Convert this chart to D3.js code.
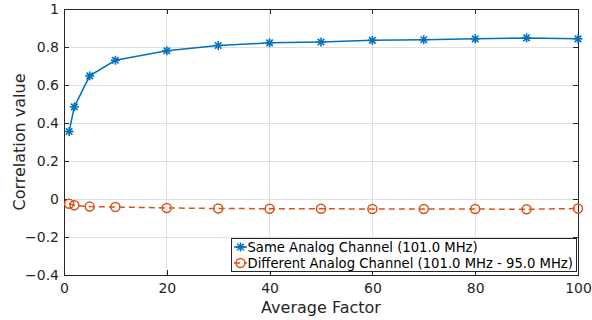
<!DOCTYPE html>
<html><head><meta charset="utf-8">
<script src="https://cdn.jsdelivr.net/npm/d3@7"></script>
<style>body{margin:0;background:#fff;} svg{display:block;}</style>
</head><body>
<svg id="c" width="592" height="320"></svg>
<script>
const xs = [1, 2, 5, 10, 20, 30, 40, 50, 60, 70, 80, 90, 100];
const sameVals = [0.355, 0.485, 0.648, 0.730, 0.780, 0.808, 0.822, 0.826, 0.835, 0.838, 0.843, 0.848, 0.843];
const diffVals = [-0.025, -0.033, -0.040, -0.042, -0.047, -0.050, -0.051, -0.051, -0.053, -0.053, -0.053, -0.054, -0.050];
const xTicks = [0, 20, 40, 60, 80, 100];
const yTicks = [-0.4, -0.2, 0, 0.2, 0.4, 0.6, 0.8, 1];
const seriesNames = ["Same Analog Channel (101.0 MHz)", "Different Analog Channel (101.0 MHz - 95.0 MHz)"];
const colors = ["#0072BD", "#D95319"];

const svg = d3.select("#c");
const L = 64, R = 578, T = 9, B = 275;
const x = d3.scaleLinear().domain([0, 100]).range([L, R]);
const y = d3.scaleLinear().domain([-0.4, 1]).range([B, T]);
const font = "'DejaVu Sans', sans-serif";
const axCol = "#262626";

// grid
svg.append("g").selectAll("line").data(xTicks).join("line")
  .attr("x1", d => x(d)).attr("x2", d => x(d)).attr("y1", T).attr("y2", B)
  .attr("stroke", "#dfdfdf").attr("stroke-width", 1).attr("shape-rendering", "crispEdges");
svg.append("g").selectAll("line").data(yTicks).join("line")
  .attr("x1", L).attr("x2", R).attr("y1", d => y(d)).attr("y2", d => y(d))
  .attr("stroke", "#dfdfdf").attr("stroke-width", 1).attr("shape-rendering", "crispEdges");

// axes
const xAxis = d3.axisBottom(x).tickValues(xTicks).tickSizeInner(-5).tickSizeOuter(0).tickPadding(8).tickFormat(d3.format("d"));
const gx = svg.append("g").attr("transform", `translate(0,${B})`).call(xAxis);
const yAxis = d3.axisLeft(y).tickValues(yTicks).tickSizeInner(-5).tickSizeOuter(0).tickPadding(5).tickFormat(d => d === 0 ? "0" : d3.format("")(+d.toFixed(1)));
const gy = svg.append("g").attr("transform", `translate(${L},0)`).call(yAxis);
// top/right axes
const gxt = svg.append("g").attr("transform", `translate(0,${T})`).call(d3.axisTop(x).tickValues(xTicks).tickSizeInner(-5).tickSizeOuter(0).tickFormat(""));
const gyr = svg.append("g").attr("transform", `translate(${R},0)`).call(d3.axisRight(y).tickValues(yTicks).tickSizeInner(-5).tickSizeOuter(0).tickFormat(""));
[gx, gy, gxt, gyr].forEach(g => {
  g.selectAll("path").attr("stroke", axCol).attr("stroke-width", 1).attr("shape-rendering", "crispEdges");
  g.selectAll("line").attr("stroke", axCol).attr("shape-rendering", "crispEdges");
  g.selectAll("text").attr("fill", axCol).style("font-family", font).style("font-size", "14px");
});

// axis labels
svg.append("text").attr("x", (L + R) / 2).attr("y", 313).attr("text-anchor", "middle")
  .style("font-family", font).style("font-size", "16px").attr("fill", axCol).text("Average Factor");
svg.append("text").attr("transform", `translate(25,${(T + B) / 2}) rotate(-90)`).attr("text-anchor", "middle")
  .style("font-family", font).style("font-size", "16px").attr("fill", axCol).text("Correlation value");

// lines
const line = d3.line().x((d, i) => x(xs[i])).y(d => y(d));
svg.append("path").datum(sameVals).attr("d", line).attr("fill", "none").attr("stroke", colors[0]).attr("stroke-width", 1.5);
svg.append("path").datum(diffVals).attr("d", line).attr("fill", "none").attr("stroke", colors[1]).attr("stroke-width", 1.5).attr("stroke-dasharray", "6,4");

function star(g, cx, cy, c) {
  const r = 4.5;
  const gg = g.append("g").attr("stroke", c).attr("stroke-width", 1.6);
  [[0, -r, 0, r], [-r, 0, r, 0], [-r * 0.72, -r * 0.72, r * 0.72, r * 0.72], [-r * 0.72, r * 0.72, r * 0.72, -r * 0.72]].forEach(s => {
    gg.append("line").attr("x1", cx + s[0]).attr("y1", cy + s[1]).attr("x2", cx + s[2]).attr("y2", cy + s[3]);
  });
}
const gs = svg.append("g");
sameVals.forEach((v, i) => star(gs, x(xs[i]), y(v), colors[0]));
svg.append("g").selectAll("circle").data(diffVals).join("circle")
  .attr("cx", (d, i) => x(xs[i])).attr("cy", d => y(d)).attr("r", 4.5)
  .attr("fill", "none").attr("stroke", colors[1]).attr("stroke-width", 1.5);

// legend
const lg = svg.append("g");
lg.append("rect").attr("x", 231.5).attr("y", 238.5).attr("width", 345).attr("height", 33)
  .attr("fill", "#fff").attr("stroke", axCol).attr("stroke-width", 1);
const ly = [247, 263];
lg.append("line").attr("x1", 234).attr("x2", 247).attr("y1", ly[0]).attr("y2", ly[0]).attr("stroke", colors[0]).attr("stroke-width", 1.5);
star(lg, 240.5, ly[0], colors[0]);
lg.append("line").attr("x1", 234).attr("x2", 247).attr("y1", ly[1]).attr("y2", ly[1]).attr("stroke", colors[1]).attr("stroke-width", 1.5).attr("stroke-dasharray", "6,4");
lg.append("circle").attr("cx", 240.5).attr("cy", ly[1]).attr("r", 4.5).attr("fill", "none").attr("stroke", colors[1]).attr("stroke-width", 1.5);
seriesNames.forEach((n, i) => {
  lg.append("text").attr("x", 247.5).attr("y", ly[i] + 4.8).style("font-family", font).style("font-size", "13.2px")
    .attr("fill", "#000").text(n);
});
</script>
</body></html>
